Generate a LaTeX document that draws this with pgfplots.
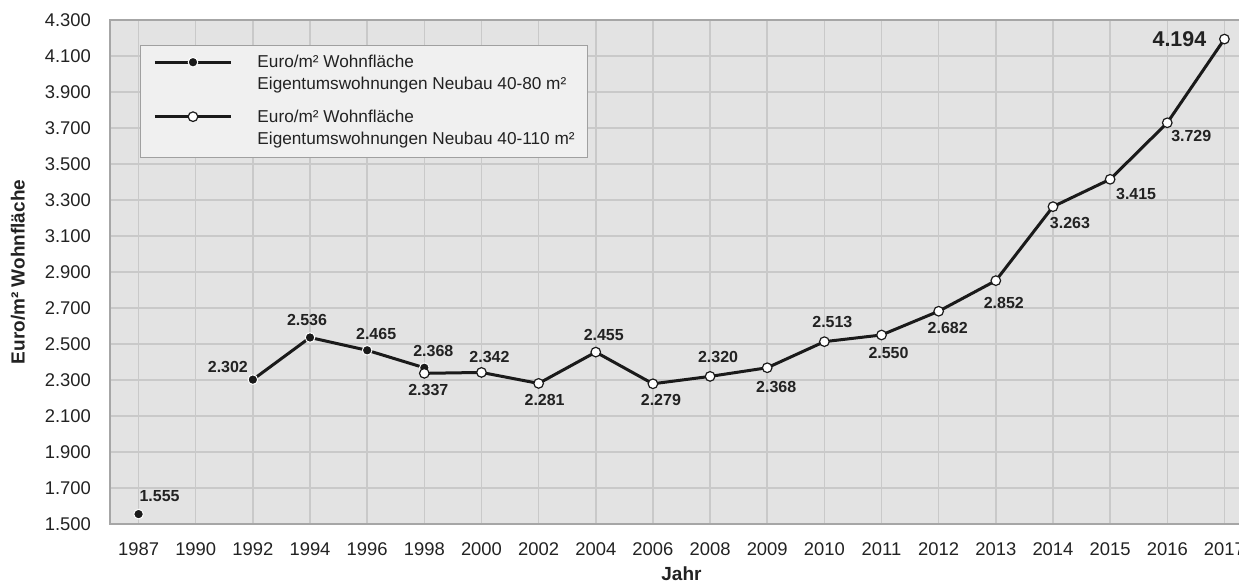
\documentclass[border=0pt]{standalone}
\usepackage{fontspec}
\setmainfont{Liberation Sans}
\usepackage{pgfplots}
\pgfplotsset{compat=1.18}
\definecolor{bgc}{HTML}{E3E3E3}
\definecolor{gridc}{HTML}{C9C9C9}
\definecolor{axc}{HTML}{A6A6A6}
\definecolor{legc}{HTML}{F0F0F0}
\definecolor{legb}{HTML}{A0A0A0}
\definecolor{txt}{HTML}{222222}
\definecolor{linec}{HTML}{1A1A1A}
\begin{document}
\begin{tikzpicture}
\begin{axis}[name=ax, scale only axis, width=571.5pt, height=252pt,
 xmin=-0.5, xmax=19.5, ymin=1500, ymax=4300,
 xtick={0,1,2,3,4,5,6,7,8,9,10,11,12,13,14,15,16,17,18,19},
 xticklabels={1987,1990,1992,1994,1996,1998,2000,2002,2004,2006,2008,2009,2010,2011,2012,2013,2014,2015,2016,2017},
 ytick={1500,1700,1900,2100,2300,2500,2700,2900,3100,3300,3500,3700,3900,4100,4300},
 scaled y ticks=false,
 /pgf/number format/assume math mode=true,
 yticklabel style={/pgf/number format/fixed, /pgf/number format/1000 sep={.}},
 major tick length=0pt,
 grid=major, grid style={gridc, line width=0.75pt},
 axis background/.style={fill=bgc},
 axis line style={axc, line width=1pt},
 tick label style={font=\fontsize{9.2}{11}\selectfont, text=txt},
 yticklabel shift=6pt, xticklabel shift=6pt,
 xlabel={Jahr}, ylabel={Euro/m² Wohnfläche},
 every axis x label/.style={at={(rel axis cs:0.5,0)}, anchor=center, yshift=-25pt,
   font=\fontsize{9.5}{11}\selectfont\bfseries, text=txt},
 every axis y label/.style={at={(rel axis cs:0,0.5)}, anchor=center, rotate=90, yshift=46pt,
   font=\fontsize{9.5}{11}\selectfont\bfseries, text=txt},
 unbounded coords=jump,
 legend cell align=left,
 legend style={at={(rel axis cs:0,1)}, anchor=north west, xshift=15pt, yshift=-12.5pt,
   fill=legc, draw=legb, line width=0.5pt, inner xsep=6.5pt, inner ysep=5pt,
   text=txt, column sep=12.5pt, row sep=8.5pt,
   nodes={inner sep=0pt, align=left, font=\fontsize{8.6}{11}\selectfont}},
 legend image code/.code={\draw[mark repeat=2, mark phase=2] plot coordinates {(0pt,6pt) (19pt,6pt) (38pt,6pt)};},
]
\addplot[linec, line width=1.5pt, mark=*, mark size=2.4pt, mark options={fill=linec, draw=white, line width=0.5pt}]
 coordinates {(0,1555) (1,nan) (2,2302) (3,2536) (4,2465) (5,2368)};
\addlegendentry{Euro/m² Wohnfläche\\Eigentumswohnungen Neubau 40-80 m²}
\addplot[linec, line width=1.5pt, mark=*, mark size=2.4pt, mark options={fill=white, draw=linec, line width=0.6pt}]
 coordinates {(5,2337) (6,2342) (7,2281) (8,2455) (9,2279) (10,2320) (11,2368) (12,2513) (13,2550) (14,2682) (15,2852) (16,3263) (17,3415) (18,3729) (19,4194)};
\addlegendentry{Euro/m² Wohnfläche\\Eigentumswohnungen Neubau 40-110 m²}
\begin{scope}[every node/.style={font=\fontsize{8}{10}\selectfont\bfseries, text=txt, inner sep=0pt}]
\node at (axis cs:0,1555) [xshift=10.5pt, yshift=9pt] {1.555};
\node at (axis cs:2,2302) [xshift=-12.5pt, yshift=6.5pt] {2.302};
\node at (axis cs:3,2536) [xshift=-1.5pt, yshift=9pt] {2.536};
\node at (axis cs:4,2465) [xshift=4.5pt, yshift=8pt] {2.465};
\node at (axis cs:5,2368) [xshift=4.5pt, yshift=8.5pt] {2.368};
\node at (axis cs:5,2337) [xshift=2pt, yshift=-8.5pt] {2.337};
\node at (axis cs:6,2342) [xshift=4pt, yshift=7.5pt] {2.342};
\node at (axis cs:7,2281) [xshift=3pt, yshift=-8.5pt] {2.281};
\node at (axis cs:8,2455) [xshift=4pt, yshift=8.5pt] {2.455};
\node at (axis cs:9,2279) [xshift=4pt, yshift=-8pt] {2.279};
\node at (axis cs:10,2320) [xshift=4pt, yshift=9.5pt] {2.320};
\node at (axis cs:11,2368) [xshift=4.5pt, yshift=-9.5pt] {2.368};
\node at (axis cs:12,2513) [xshift=4pt, yshift=10pt] {2.513};
\node at (axis cs:13,2550) [xshift=3.5pt, yshift=-9pt] {2.550};
\node at (axis cs:14,2682) [xshift=4.5pt, yshift=-8.5pt] {2.682};
\node at (axis cs:15,2852) [xshift=4pt, yshift=-11pt] {2.852};
\node at (axis cs:16,3263) [xshift=8.5pt, yshift=-8pt] {3.263};
\node at (axis cs:17,3415) [xshift=13pt, yshift=-7.5pt] {3.415};
\node at (axis cs:18,3729) [xshift=12pt, yshift=-6.5pt] {3.729};
\node at (axis cs:19,4194) [xshift=-22.5pt, yshift=0pt, font=\fontsize{10.7}{12}\selectfont\bfseries] {4.194};
\end{scope}
\end{axis}
\pgfresetboundingbox
\path ([shift={(-55pt,-29.5pt)}]ax.south west) rectangle ([shift={(564.5pt,262pt)}]ax.south west);
\end{tikzpicture}
\end{document}
